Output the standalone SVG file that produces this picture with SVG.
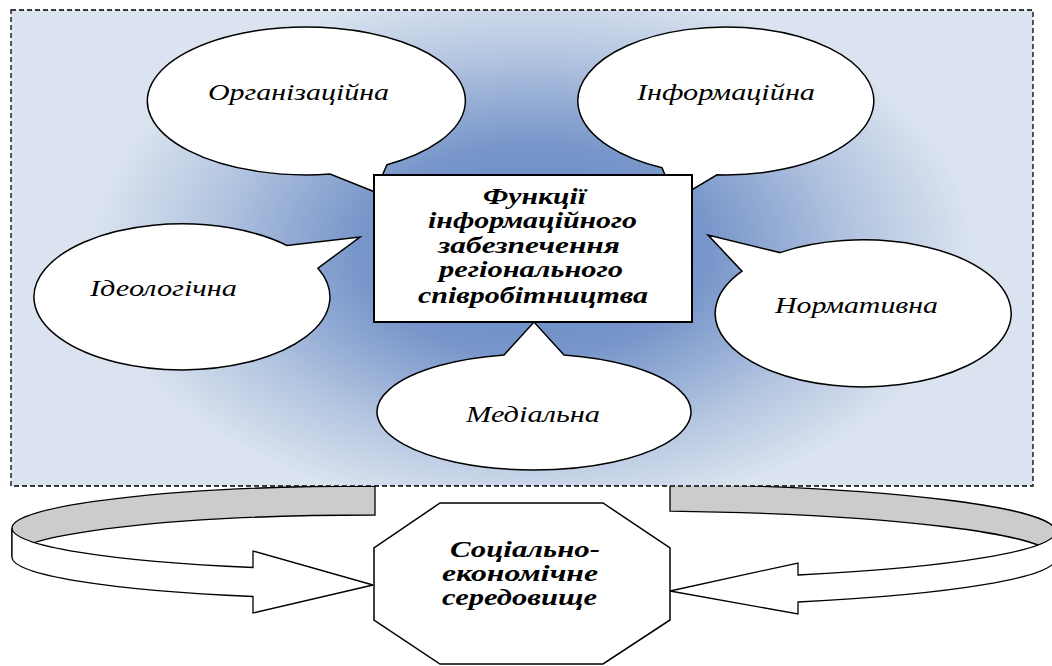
<svg xmlns="http://www.w3.org/2000/svg" width="1052" height="666" viewBox="0 0 1052 666">
<defs>
<radialGradient id="bg" gradientUnits="userSpaceOnUse" cx="533" cy="250" r="1" gradientTransform="translate(533 250) scale(440 265) translate(-533 -250)">
<stop offset="0" stop-color="#6386c2"/>
<stop offset="0.4" stop-color="#7896ca"/>
<stop offset="0.75" stop-color="#b6c7e1"/>
<stop offset="1" stop-color="#dae3ef"/>
</radialGradient>
<style>
.bub{fill:#fff;stroke:#000;stroke-width:1.5;stroke-linejoin:miter}
.lbl{font-family:'Liberation Serif','Times New Roman',serif;font-style:italic;font-size:23px;fill:#000;text-anchor:middle}
.bold{font-family:'Liberation Serif','Times New Roman',serif;font-style:italic;font-weight:bold;font-size:23px;fill:#000;text-anchor:middle}
.gray{fill:#cccccc;stroke:#000;stroke-width:1.3}
.front{fill:#fff;stroke:#000;stroke-width:1.3;stroke-linejoin:miter}
</style>
</defs>
<g id="connectors">
<path class="gray" d="M375,486 A363,42 0 0 0 12,528 L12,557 A363,42 0 0 1 375,515 Z"/>
<path class="front" d="M12,528 A363,42 0 0 0 253,567.5 L253,551 L373,585 L253,613 L253,596.5 A363,42 0 0 1 12,557 Z"/>
<path class="gray" d="M670,484.1 A435.6,47.7 0 0 1 1055.6,531.5 L1055.6,558.5 A435.6,47.7 0 0 0 670,511.1 Z"/>
<path class="front" d="M798,575 A435.6,47.7 0 0 0 1055.6,531.5 L1055.6,558.5 A435.6,47.7 0 0 1 798,602 L798,614 L670,591 L798,563 Z"/>
</g>
<g id="frame">
<rect x="11" y="10" width="1022" height="476" fill="url(#bg)" stroke="#000" stroke-width="1.3" stroke-dasharray="5,3"/>
</g>
<g id="organizational">
<path class="bub" d="M387,164.7 A159,74 0 1 0 330,174.1 L375,192 Z"/>
<text class="lbl" x="298.5" y="100" textLength="181" lengthAdjust="spacingAndGlyphs">Організаційна</text>
</g>
<g id="informational">
<path class="bub" d="M717,174.8 A148,74 0 1 0 662,167.7 L675,200 Z"/>
<text class="lbl" x="726" y="100" textLength="178" lengthAdjust="spacingAndGlyphs">Інформаційна</text>
</g>
<g id="ideological">
<path class="bub" d="M287,245.5 A148,73 0 1 0 318,268.2 L360,237 Z"/>
<text class="lbl" x="163.5" y="296" textLength="147" lengthAdjust="spacingAndGlyphs">Ідеологічна</text>
</g>
<g id="normative">
<path class="bub" d="M780,252.6 A148,73.5 0 1 1 742,271.2 L708,235 Z"/>
<text class="lbl" x="856.5" y="313" textLength="163" lengthAdjust="spacingAndGlyphs">Нормативна</text>
</g>
<g id="medial">
<path class="bub" d="M564,355 A157,58 0 1 1 504,355 L534,322 Z"/>
<text class="lbl" x="533" y="422" textLength="134" lengthAdjust="spacingAndGlyphs">Медіальна</text>
</g>
<g id="center">
<rect x="374" y="175" width="318" height="147" fill="#fff" stroke="#000" stroke-width="2"/>
<text class="bold" x="534.5" y="204" textLength="103" lengthAdjust="spacingAndGlyphs">Функції</text>
<text class="bold" x="532.5" y="228" textLength="209" lengthAdjust="spacingAndGlyphs">інформаційного</text>
<text class="bold" x="529" y="253" textLength="182" lengthAdjust="spacingAndGlyphs">забезпечення</text>
<text class="bold" x="531" y="277" textLength="184" lengthAdjust="spacingAndGlyphs">регіонального</text>
<text class="bold" x="533" y="303" textLength="230" lengthAdjust="spacingAndGlyphs">співробітництва</text>
</g>
<g id="environment">
<polygon points="440,503 603,503 670,548 670,620 603,664 440,664 374,620 374,548" fill="#fff" stroke="#000" stroke-width="1.5"/>
<text class="bold" x="525" y="557" textLength="150" lengthAdjust="spacingAndGlyphs">Соціально-</text>
<text class="bold" x="520" y="581" textLength="156" lengthAdjust="spacingAndGlyphs">економічне</text>
<text class="bold" x="519.5" y="605" textLength="155" lengthAdjust="spacingAndGlyphs">середовище</text>
</g>
</svg>
